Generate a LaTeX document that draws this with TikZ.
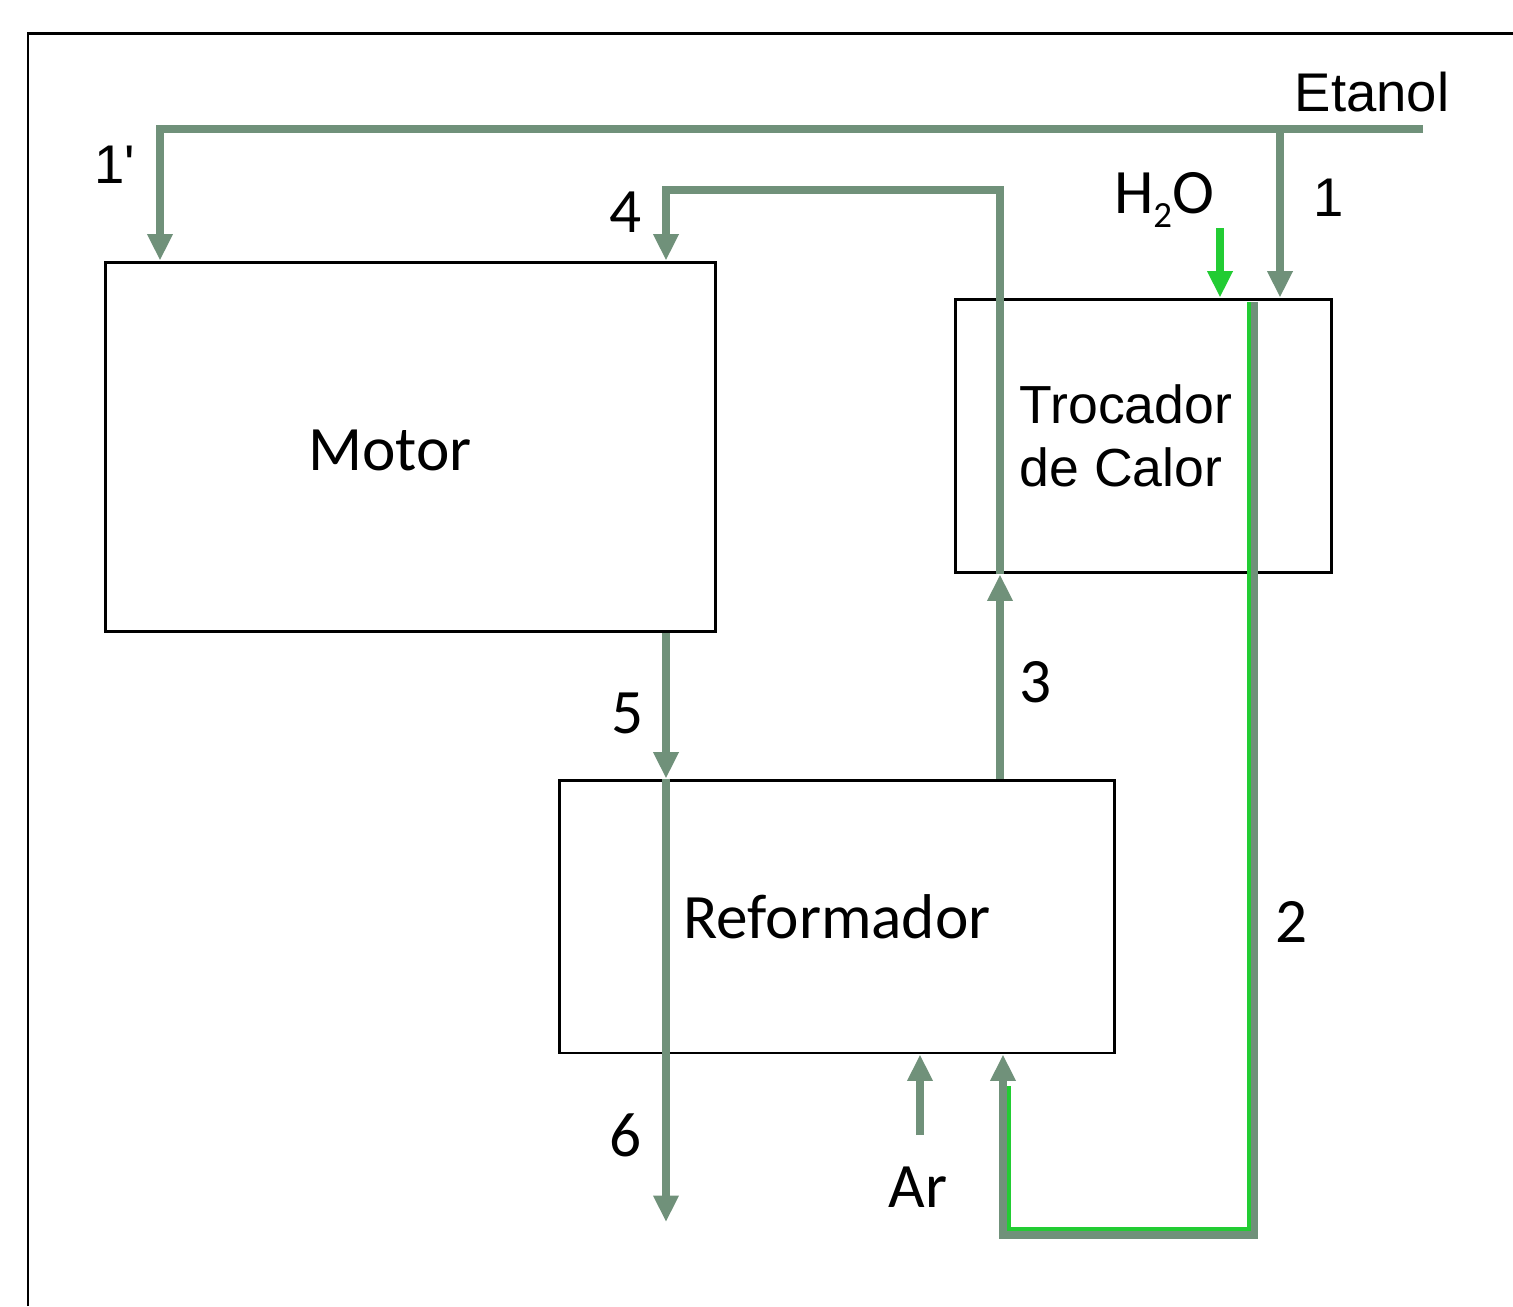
\documentclass[tikz,border=0pt]{standalone}
\usepackage{fontspec}
\newfontfamily\calibri{Carlito}
\newfontfamily\arial{Liberation Sans}
\usetikzlibrary{arrows.meta}
\definecolor{flujo}{RGB}{112,145,122}
\definecolor{agua}{RGB}{34,204,51}
\begin{document}
\begin{tikzpicture}[x=0.02cm, y=-0.02cm,
  caja/.style={draw, line width=1.7pt, inner sep=0pt},
  corriente/.style={flujo, line width=4.5pt, -{Triangle[length=15pt,width=13.6pt]}},
  cal/.style={font=\calibri\fontsize{36}{43}\selectfont, inner sep=0pt},
  ari/.style={font=\arial\fontsize{31}{32}\selectfont, inner sep=0pt}]
  \useasboundingbox (0,0) rectangle (1513,1306);
  \draw[line width=1.7pt] (28,1306) -- (28,33) -- (1513,33);

  % equipos
  \node[caja, minimum width=12.22cm, minimum height=7.4cm] (motor) at (410.5,447) {};
  \node[caja, minimum width=7.54cm, minimum height=5.48cm] (trocador) at (1143.5,436) {};
  \node[caja, cal, minimum width=11.12cm, minimum height=5.46cm] (reformador) at (837,916.5) {Reformador};
  \node[cal, anchor=base] (motorlbl) at (390,470) {Motor};
  \node[ari, align=left, font=\arial\fontsize{30.5}{36}\selectfont] (troclbl) at (1126,436) {Trocador\\de Calor};

  % puntos de las corrientes
  \coordinate (ent) at (1423,129);
  \coordinate (div) at (1280,129);
  \coordinate (esq1) at (160,129);
  \coordinate (c3) at (1000,190);
  \coordinate (c4) at (666,190);
  \coordinate (sal6) at (666,1222);
  \coordinate (arin) at (920,1135);
  \coordinate (h2oin) at (1220,228);
  \coordinate (d2) at (1254,1235);
  \coordinate (e2) at (1003,1235);
  \coordinate (d2v) at (1249,1229);
  \coordinate (e2v) at (1009,1229);
  \coordinate (g2) at (1009,1086);

  \draw[corriente] (ent) -- (esq1) -- (esq1 |- motor.north);
  \draw[corriente] (div) -- (div |- trocador.north);
  \draw[corriente, agua] (h2oin) -- (h2oin |- trocador.north);
  \draw[corriente] (c3 |- reformador.north) -- (c3 |- trocador.south);
  \draw[corriente] (c3 |- trocador.south) -- (c3) -- (c4) -- (c4 |- motor.north);
  \draw[corriente] (c4 |- motor.south) -- (c4 |- reformador.north);
  \draw[corriente] (c4 |- reformador.north) -- (sal6);
  \draw[corriente] (arin) -- (arin |- reformador.south);
  \draw[corriente] ([yshift=-2.5pt]d2 |- trocador.north) -- (d2) -- (e2) -- (e2 |- reformador.south);
  \draw[agua, line width=2.2pt] ([yshift=-2.5pt]d2v |- trocador.north) -- (d2v) -- (e2v) -- (g2);

  % rotulos
  \node[ari] (etanol) at (1372,92) {Etanol};
  \node[ari] (n1p) at (115,165) {1'};
  \node[ari] (n1) at (1329,198) {1};
  \node[cal, anchor=base] (h2o) at (1164,213) {H\raisebox{-8pt}{\fontsize{21}{24}\selectfont 2}O};
  \node[cal] (n4) at (626,212) {4};
  \node[cal] (n5) at (628,713) {5};
  \node[cal] (n3) at (1036,682) {3};
  \node[cal] (n2) at (1292,922) {2};
  \node[cal] (n6) at (626,1135) {6};
  \node[cal] (ar) at (918,1187) {Ar};
\end{tikzpicture}
\end{document}
